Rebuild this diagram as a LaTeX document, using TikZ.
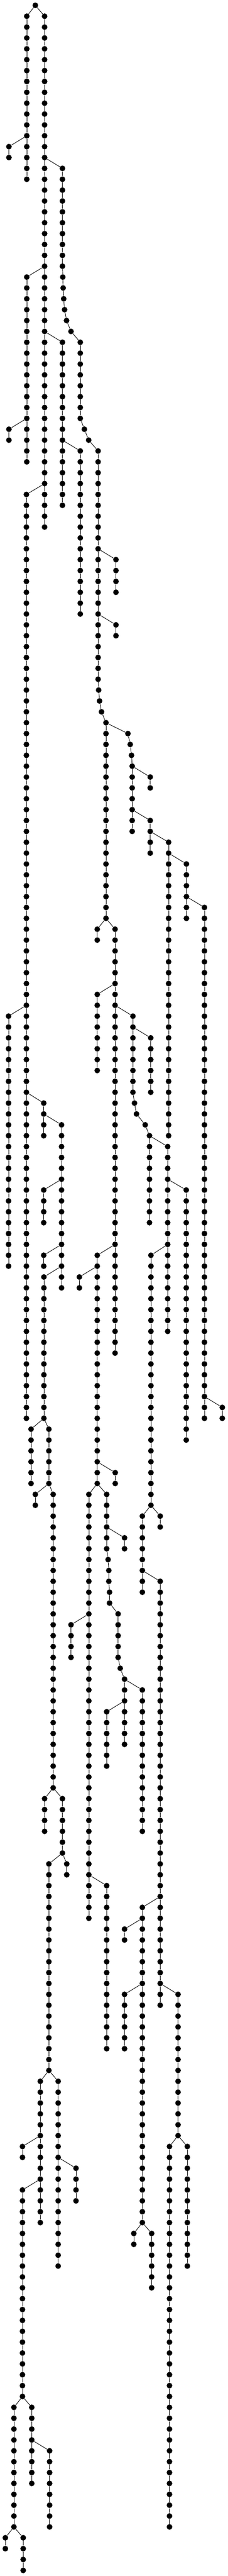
\documentclass[tikz,border=0pt]{standalone}
\usepackage{tikz}
\tikzset{tree node/.style={circle,fill=black,minimum size=10.6pt,inner sep=0pt}}
% a vertical run of nodes #1-#3 ... #1-#4 in column #2
\newcommand{\dotchain}[4]{%
  \foreach \r in {#3,...,#4}{%
    \node[tree node] (#1-\r) at (#2,\r) {};
    \ifnum\r>#3\relax
      \pgfmathtruncatemacro{\q}{\r-1}
      \draw (#1-\q) -- (#1-\r);
    \fi
  }%
}
\begin{document}
\begin{tikzpicture}[x=33.333pt,y=-20.265pt,line width=0.9pt]
\useasboundingbox (0,-0.4935) rectangle (12.78,236.52);
\node[tree node] (root) at (1.98,0) {};
\dotchain{c1}{1.5}{1}{16}
\dotchain{c2}{2.5}{1}{48}
\dotchain{c3}{0.5}{13}{14}
\dotchain{c4}{3.5}{15}{24}
\dotchain{c5}{4.5}{31}{38}
\dotchain{c6}{1.5}{25}{42}
\dotchain{c7}{5.5}{41}{62}
\dotchain{c8}{0.5}{39}{40}
\dotchain{c9}{3.5}{31}{46}
\dotchain{c10}{1.48}{45}{130}
\dotchain{c11}{4.5}{41}{56}
\dotchain{c12}{6.5}{51}{54}
\dotchain{c13}{6.5}{57}{58}
\dotchain{c14}{5.94}{66}{84}
\dotchain{c15}{7.41}{70}{76}
\dotchain{c16}{8.42}{71}{72}
\dotchain{c17}{8.42}{75}{78}
\dotchain{c18}{9.45}{77}{104}
\dotchain{c19}{10.45}{79}{84}
\dotchain{c20}{11.46}{83}{130}
\dotchain{c21}{12.46}{129}{130}
\dotchain{c22}{0.48}{93}{116}
\dotchain{c23}{5.45}{85}{86}
\dotchain{c24}{6.45}{85}{124}
\dotchain{c25}{5.45}{91}{98}
\dotchain{c26}{7.45}{93}{100}
\dotchain{c27}{8.45}{95}{100}
\dotchain{c28}{8.38}{104}{112}
\dotchain{c29}{9.4}{105}{122}
\dotchain{c30}{10.44}{109}{132}
\dotchain{c31}{8.46}{115}{138}
\dotchain{c32}{2.45}{101}{104}
\dotchain{c33}{3.45}{103}{118}
\dotchain{c34}{2.45}{109}{112}
\dotchain{c35}{2.45}{115}{116}
\dotchain{c36}{2.46}{117}{130}
\dotchain{c37}{1.74}{131}{136}
\dotchain{c38}{2.74}{131}{136}
\dotchain{c39}{1.98}{137}{138}
\dotchain{c40}{2.98}{137}{164}
\dotchain{c41}{2.5}{165}{168}
\dotchain{c42}{3.5}{165}{170}
\dotchain{c43}{2.74}{171}{190}
\dotchain{c44}{3.74}{171}{172}
\dotchain{c45}{2.26}{191}{204}
\dotchain{c46}{3.26}{191}{208}
\dotchain{c47}{1.26}{197}{198}
\dotchain{c48}{1.26}{201}{220}
\dotchain{c49}{4.26}{199}{202}
\dotchain{c50}{0.78}{221}{232}
\dotchain{c51}{1.78}{221}{228}
\dotchain{c52}{2.78}{225}{232}
\dotchain{c53}{0.3}{233}{234}
\dotchain{c54}{1.3}{233}{236}
\dotchain{c55}{5.45}{115}{136}
\dotchain{c56}{4.45}{117}{118}
\dotchain{c57}{6.46}{135}{136}
\dotchain{c58}{4.98}{137}{176}
\dotchain{c59}{3.98}{149}{152}
\dotchain{c60}{5.98}{173}{188}
\dotchain{c61}{5.98}{137}{142}
\dotchain{c62}{6.62}{148}{152}
\dotchain{c63}{6.98}{154}{160}
\dotchain{c64}{6.98}{141}{142}
\dotchain{c65}{7.98}{155}{168}
\dotchain{c66}{5.98}{157}{162}
\dotchain{c67}{7.98}{139}{146}
\dotchain{c68}{8.98}{139}{140}
\dotchain{c69}{8.98}{145}{184}
\dotchain{c70}{7.98}{175}{204}
\dotchain{c71}{9.98}{183}{196}
\dotchain{c72}{6.98}{177}{178}
\dotchain{c73}{6.98}{183}{188}
\dotchain{c74}{7.5}{205}{206}
\dotchain{c75}{8.5}{205}{210}
\dotchain{c76}{9.5}{197}{232}
\dotchain{c77}{10.5}{197}{208}
% slanted runs
\foreach \r/\x in {25/3.52,26/3.54,27/3.57,28/3.62,29/3.73,30/3.98}
  \node[tree node] (d1-\r) at (\x,\r) {};
\foreach \r/\x in {39/4.73,40/4.97}
  \node[tree node] (d2-\r) at (\x,\r) {};
\foreach \r/\x in {63/5.53,64/5.58,65/5.69}
  \node[tree node] (d3-\r) at (\x,\r) {};
\foreach \r/\x in {67/7.17,68/7.3,69/7.37}
  \node[tree node] (d4-\r) at (\x,\r) {};
\foreach \r/\x in {101/7.54,102/7.65,103/8.14}
  \node[tree node] (d5-\r) at (\x,\r) {};
\foreach \r/\x in {143/6.06,144/6.1,145/6.1,146/6.14,147/6.14}
  \node[tree node] (d6-\r) at (\x,\r) {};
\node[tree node] (d7-153) at (6.74,153) {};
% links
\draw (root) -- (c1-1);
\draw (root) -- (c2-1);
\draw (c1-12) -- (c3-13);
\draw (c2-14) -- (c4-15);
\draw (c4-24) -- (d1-25) -- (d1-26) -- (d1-27) -- (d1-28) -- (d1-29) -- (d1-30) -- (c5-31);
\draw (c2-24) -- (c6-25);
\draw (c6-38) -- (c8-39);
\draw (c2-30) -- (c9-31);
\draw (c5-38) -- (d2-39) -- (d2-40) -- (c7-41);
\draw (c2-44) -- (c10-45);
\draw (c9-40) -- (c11-41);
\draw (c7-50) -- (c12-51);
\draw (c7-56) -- (c13-57);
\draw (c7-62) -- (d3-63) -- (d3-64) -- (d3-65) -- (c14-66);
\draw (c14-66) -- (d4-67) -- (d4-68) -- (d4-69) -- (c15-70);
\draw (c15-70) -- (c16-71);
\draw (c15-74) -- (c17-75);
\draw (c17-76) -- (c18-77);
\draw (c18-78) -- (c19-79);
\draw (c19-82) -- (c20-83);
\draw (c20-128) -- (c21-129);
\draw (c10-92) -- (c22-93);
\draw (c14-84) -- (c23-85);
\draw (c14-84) -- (c24-85);
\draw (c24-90) -- (c25-91);
\draw (c24-92) -- (c26-93);
\draw (c26-94) -- (c27-95);
\draw (c26-100) -- (d5-101) -- (d5-102) -- (d5-103) -- (c28-104);
\draw (c28-104) -- (c29-105);
\draw (c29-108) -- (c30-109);
\draw (c29-114) -- (c31-115);
\draw (c10-100) -- (c32-101);
\draw (c32-102) -- (c33-103);
\draw (c33-108) -- (c34-109);
\draw (c33-114) -- (c35-115);
\draw (c33-116) -- (c36-117);
\draw (c36-130) -- (c37-131);
\draw (c36-130) -- (c38-131);
\draw (c38-136) -- (c39-137);
\draw (c38-136) -- (c40-137);
\draw (c40-164) -- (c41-165);
\draw (c40-164) -- (c42-165);
\draw (c42-170) -- (c43-171);
\draw (c42-170) -- (c44-171);
\draw (c43-190) -- (c45-191);
\draw (c43-190) -- (c46-191);
\draw (c45-196) -- (c47-197);
\draw (c45-200) -- (c48-201);
\draw (c46-198) -- (c49-199);
\draw (c48-220) -- (c50-221);
\draw (c48-220) -- (c51-221);
\draw (c51-224) -- (c52-225);
\draw (c50-232) -- (c53-233);
\draw (c50-232) -- (c54-233);
\draw (c24-114) -- (c55-115);
\draw (c55-116) -- (c56-117);
\draw (c55-134) -- (c57-135);
\draw (c55-136) -- (c58-137);
\draw (c55-136) -- (c61-137);
\draw (c58-148) -- (c59-149);
\draw (c58-172) -- (c60-173);
\draw (c61-140) -- (c64-141);
\draw (c61-142) -- (d6-143) -- (d6-144) -- (d6-145) -- (d6-146) -- (d6-147) -- (c62-148);
\draw (c62-152) -- (d7-153) -- (c63-154);
\draw (c63-154) -- (c65-155);
\draw (c63-156) -- (c66-157);
\draw (c31-138) -- (c67-139);
\draw (c31-138) -- (c68-139);
\draw (c67-144) -- (c69-145);
\draw (c69-174) -- (c70-175);
\draw (c69-182) -- (c71-183);
\draw (c70-176) -- (c72-177);
\draw (c70-182) -- (c73-183);
\draw (c70-204) -- (c74-205);
\draw (c70-204) -- (c75-205);
\draw (c71-196) -- (c76-197);
\draw (c71-196) -- (c77-197);
\end{tikzpicture}
\end{document}
